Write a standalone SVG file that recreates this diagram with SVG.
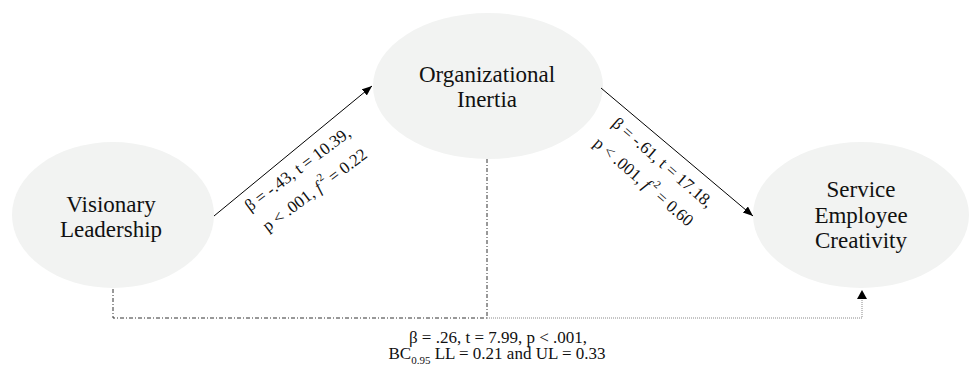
<svg xmlns="http://www.w3.org/2000/svg" width="971" height="373" viewBox="0 0 971 373">
<style>
.node{fill:#f2f3f2;stroke:none}
.nt{font-size:23px;fill:#111;text-anchor:middle}
.lab{font-size:17px;fill:#111}
.solid{stroke:#000;stroke-width:1;fill:none}
.dd{stroke:#333;stroke-width:1;fill:none;stroke-dasharray:4,2,1,2}
.dot{stroke:#8a8a8a;stroke-width:1;fill:none;stroke-dasharray:1,1}
</style>
<defs>
<marker id="ah" markerUnits="userSpaceOnUse" markerWidth="11" markerHeight="9" refX="10" refY="4" orient="auto">
<path d="M0,0 L10,4 L0,8 z" fill="#000"/>
</marker>
</defs>
<rect width="971" height="373" fill="#fff"/>
<g font-family="'Liberation Serif', 'Times New Roman', serif">
<g id="visionary-leadership">
<ellipse class="node" cx="113" cy="215" rx="101" ry="73"/>
<text class="nt" x="111" y="212">Visionary</text>
<text class="nt" x="111" y="237">Leadership</text>
</g>
<g id="organizational-inertia">
<ellipse class="node" cx="488" cy="86" rx="115" ry="73"/>
<text class="nt" x="487" y="82">Organizational</text>
<text class="nt" x="487" y="107">Inertia</text>
</g>
<g id="service-employee-creativity">
<ellipse class="node" cx="861" cy="215" rx="108" ry="73"/>
<text class="nt" x="861" y="197">Service</text>
<text class="nt" x="861" y="223">Employee</text>
<text class="nt" x="861" y="248">Creativity</text>
</g>
<g id="connectors">
<line class="solid" x1="214" y1="216" x2="372" y2="86" marker-end="url(#ah)"/>
<line class="solid" x1="601" y1="88" x2="753" y2="216" marker-end="url(#ah)"/>
<polyline class="dd" points="113,289 113,318 487,318"/>
<line class="dd" x1="487" y1="159" x2="487" y2="318"/>
<polyline class="dot" points="487,318 862,318 862,298"/>
<path d="M857,299 L862,290 L867,299 z" fill="#000"/>
</g>
<g id="labels">
<g transform="translate(250,212) rotate(-37)">
<text class="lab" x="0" y="0">β = -.43, t = 10.39,</text>
<text class="lab" x="2" y="27">p &lt; .001, <tspan font-style="italic">f</tspan><tspan font-size="11" dy="-9"> 2</tspan><tspan dy="9"> = 0.22</tspan></text>
</g>
<g transform="translate(611,125) rotate(41)">
<text class="lab" x="0" y="0">β = -.61, t = 17.18,</text>
<text class="lab" x="-1" y="27">p &lt; .001, <tspan font-style="italic">f</tspan><tspan font-size="11" dy="-9"> 2</tspan><tspan dy="9"> = 0.60</tspan></text>
</g>
<text class="lab" x="498" y="343" text-anchor="middle">β = .26, t = 7.99, p &lt; .001,</text>
<text class="lab" x="497" y="359" text-anchor="middle">BC<tspan font-size="11" dy="5">0.95</tspan><tspan dy="-5"> LL = 0.21 and UL = 0.33</tspan></text>
</g>
</g>
</svg>
